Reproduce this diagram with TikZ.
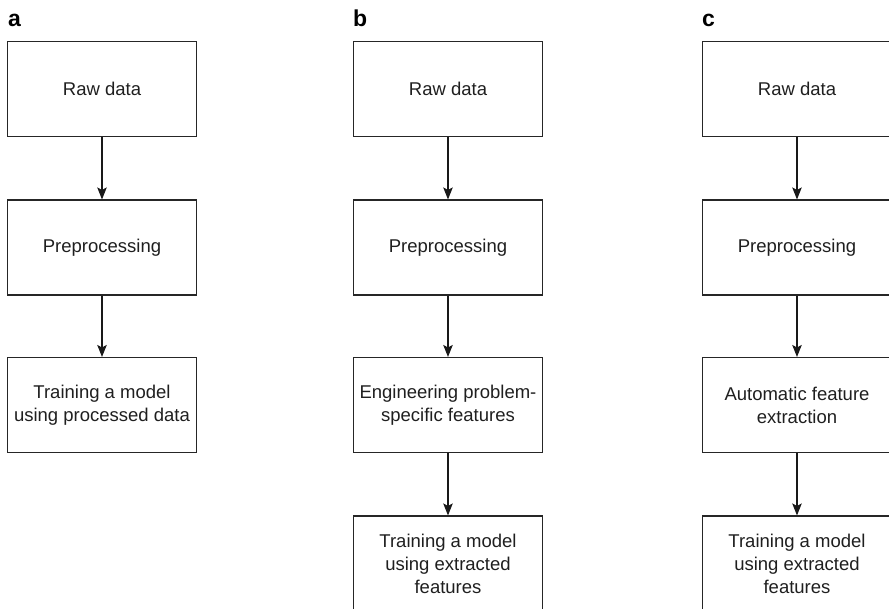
\documentclass[tikz,border=0pt]{standalone}
\usepackage{fontspec}
\setmainfont{Liberation Sans}
\usetikzlibrary{arrows.meta}
\begin{document}
\begin{tikzpicture}[x=1pt,y=-1pt,
  stepbox/.style={draw=black!85,line width=1.1pt,minimum width=189pt,minimum height=95pt,
    align=center,inner sep=0pt,text=black!88,font=\fontsize{18.5}{23}\selectfont},
  panel/.style={anchor=base west,inner sep=0pt,font=\fontsize{23}{26}\selectfont\bfseries},
  flow/.style={draw=black!90,line width=1.1pt,-{Stealth[length=12pt,width=9.5pt,inset=2.5pt]}}]
\clip (0,0) rectangle (889,608);
\useasboundingbox (0,0) rectangle (889,608);

% panel letters
\node[panel] (la) at (8,26) {a};
\node[panel] (lb) at (353,26) {b};
\node[panel] (lc) at (702,26) {c};

% column a
\node[stepbox] (a1) at (102,89) {Raw data};
\node[stepbox] (a2) at (102,247.5) {Preprocessing};
\node[stepbox] (a3) at (102,405) {Training a model\\using processed data};

% column b
\node[stepbox] (b1) at (448,89) {Raw data};
\node[stepbox] (b2) at (448,247.5) {Preprocessing};
\node[stepbox] (b3) at (448,405) {Engineering problem-\\specific features};
\node[stepbox] (b4) at (448,563.5) {Training a model\\using extracted\\features};

% column c
\node[stepbox] (c1) at (797,89) {Raw data};
\node[stepbox] (c2) at (797,247.5) {Preprocessing};
\node[stepbox] (c3) at (797,405) {Automatic feature\\extraction};
\node[stepbox] (c4) at (797,563.5) {Training a model\\using extracted\\features};

% connectors
\draw[flow] (a1) -- (a2);
\draw[flow] (a2) -- (a3);
\draw[flow] (b1) -- (b2);
\draw[flow] (b2) -- (b3);
\draw[flow] (b3) -- (b4);
\draw[flow] (c1) -- (c2);
\draw[flow] (c2) -- (c3);
\draw[flow] (c3) -- (c4);
\end{tikzpicture}
\end{document}
